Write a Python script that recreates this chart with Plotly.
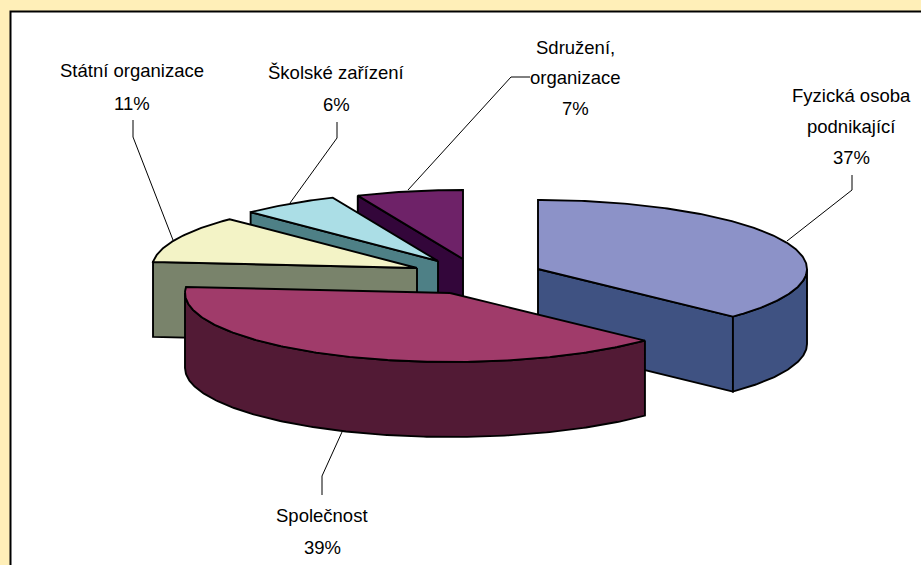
import math
import plotly.graph_objects as go

# --- data ---
categories = ["Fyzická osoba podnikající", "Společnost", "Státní organizace", "Školské zařízení", "Sdružení, organizace"]
shares = [37.1, 39.3, 11.1, 6.0, 6.5]          # estimated shares behind the rounded labels
percent_labels = ["37%", "39%", "11%", "6%", "7%"]

# --- geometry / style ---
W, H = 921, 565
apex = [(538, 269), (450, 293), (417, 268), (438, 261), (463, 259)]
RX_RIGHT, RX_LEFT, RY, DEPTH = 269, 265, 69, 75
top_colors = ["#8C92C8", "#A03B6A", "#F3F3C6", "#ABDEE6", "#6E2268"]
side_colors = ["#3F5282", "#521A35", "#79836B", "#4E8086", "#33063A"]
paint_order = [4, 3, 2, 0, 1]
text_lines = [
    [("Fyzická osoba", 851, 95), ("podnikající", 851, 126), ("37%", 851, 157)],
    [("Společnost", 322, 515), ("39%", 322, 547)],
    [("Státní organizace", 132, 70), ("11%", 132, 103)],
    [("Školské zařízení", 336, 72), ("6%", 336, 104)],
    [("Sdružení,", 575, 47), ("organizace", 575, 77), ("7%", 575, 108)],
]
leaders = [
    [(852, 175), (852, 190), (787, 241)],
    [(342, 432), (322, 476), (322, 495)],
    [(133, 120), (133, 137), (173, 240)],
    [(337, 122), (337, 138), (290, 203)],
    [(530, 77), (511, 77), (408, 190)],
]

fig = go.Figure()


def point(center, deg):
    a = math.radians(deg)
    s = math.sin(a)
    rx = RX_RIGHT if s > 0 else RX_LEFT
    return center[0] + rx * s, center[1] - RY * math.cos(a)


def arc(center, a0, a1):
    n = max(2, int(abs(a1 - a0) * 1.5))
    return [point(center, a0 + (a1 - a0) * i / n) for i in range(n + 1)]


def poly(points, color):
    xs = [p[0] for p in points] + [points[0][0]]
    ys = [p[1] for p in points] + [points[0][1]]
    fig.add_trace(go.Scatter(x=xs, y=ys, mode="lines", fill="toself", fillcolor=color,
                             line=dict(color="black", width=1.9), hoverinfo="skip",
                             showlegend=False))


def down(points):
    return [(x, y + DEPTH) for x, y in points]


total = sum(shares)
bounds = [0]
for v in shares:
    bounds.append(bounds[-1] + v / total * 360)

for i in paint_order:
    a0, a1 = bounds[i], bounds[i + 1]
    c = apex[i]
    interior = point(c, (a0 + a1) / 2)
    # radial cut faces that turn towards the viewer
    for edge in (a0, a1):
        p = point(c, edge)
        if abs(p[0] - c[0]) < 1:
            continue
        line_y = c[1] + (p[1] - c[1]) * (interior[0] - c[0]) / (p[0] - c[0])
        if interior[1] < line_y:
            poly([c, p, (p[0], p[1] + DEPTH), (c[0], c[1] + DEPTH)], side_colors[i])
    # outer wall on the front half of the ellipse
    w0, w1 = max(a0, 90), min(a1, 270)
    if w1 > w0:
        rim = arc(c, w0, w1)
        poly(rim + down(rim)[::-1], side_colors[i])
    # top face
    poly([c] + arc(c, a0, a1), top_colors[i])

for path in leaders:
    fig.add_trace(go.Scatter(x=[p[0] for p in path], y=[p[1] for p in path], mode="lines",
                             line=dict(color="black", width=1), hoverinfo="skip", showlegend=False))

for block in text_lines:
    for txt, x, y in block:
        fig.add_annotation(x=x, y=y, text=txt, showarrow=False, xanchor="center", yanchor="middle",
                           font=dict(family="Liberation Sans", size=18.5, color="black"))

fig.add_shape(type="rect", x0=10.5, y0=11.5, x1=W + 20, y1=H + 20, layer="below",
              line=dict(color="black", width=2), fillcolor="white")
fig.update_xaxes(range=[0, W], visible=False, fixedrange=True)
fig.update_yaxes(range=[H, 0], visible=False, fixedrange=True)
fig.update_layout(width=W, height=H, margin=dict(l=0, r=0, t=0, b=0),
                  paper_bgcolor="#FFEFB8", plot_bgcolor="#FFEFB8", showlegend=False)
fig.write_html("out.html", config={"displayModeBar": False},
               post_script="document.body.style.margin='0';document.body.style.overflow='hidden';")
